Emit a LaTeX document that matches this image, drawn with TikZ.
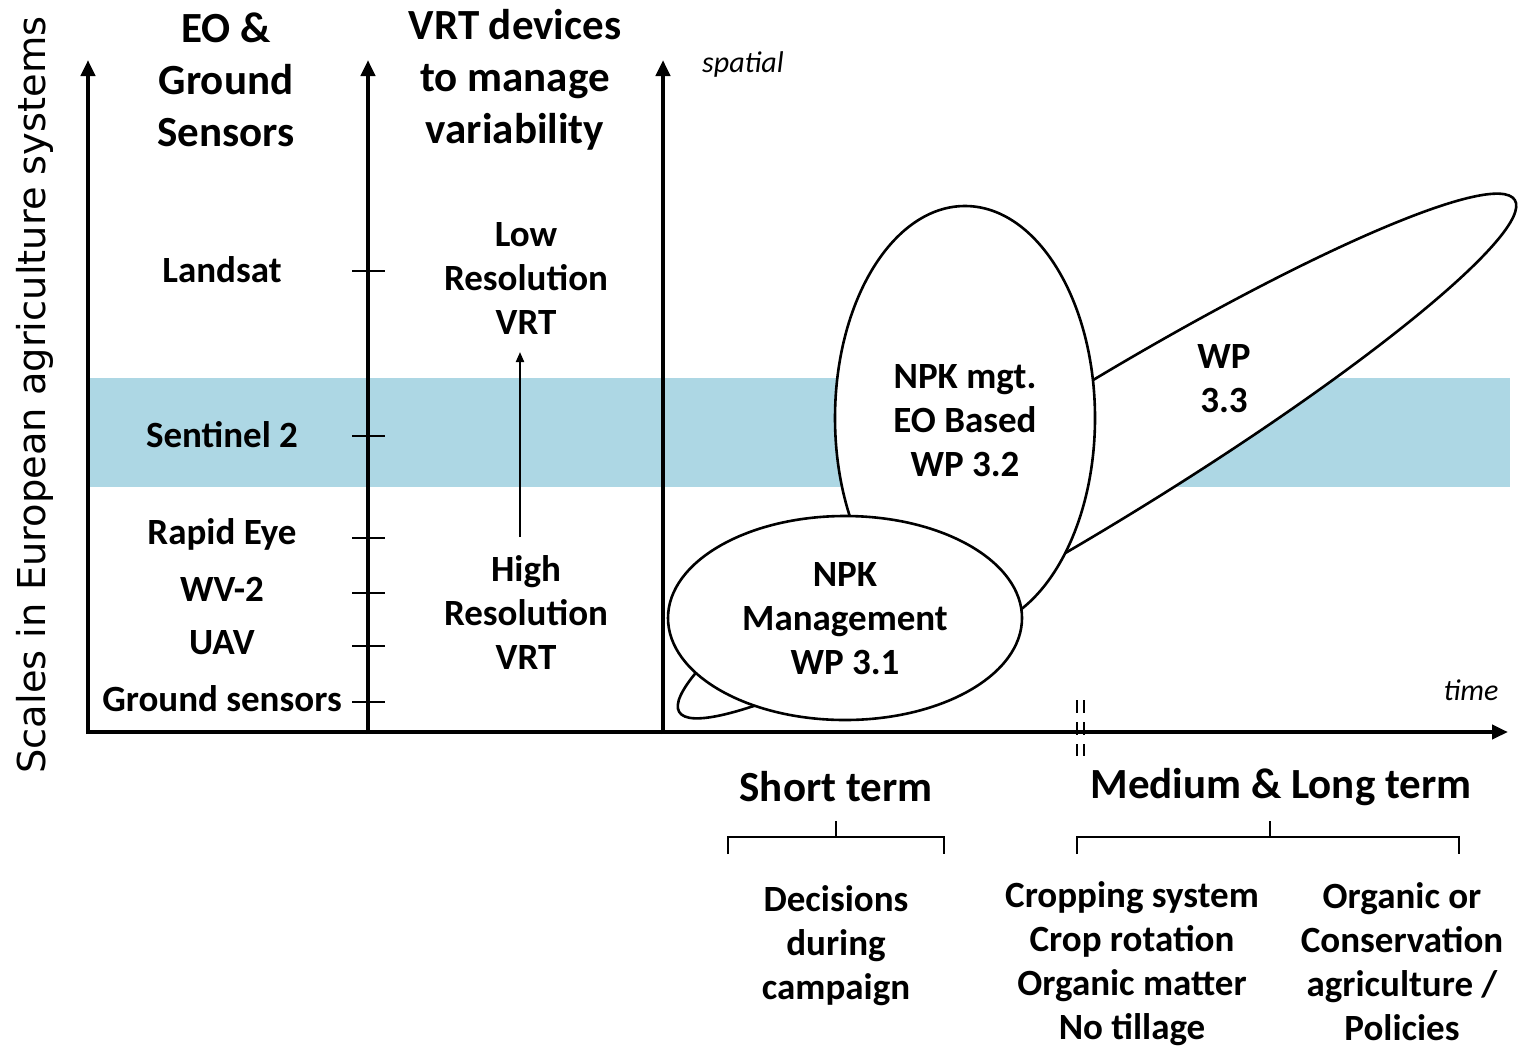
\documentclass[tikz,border=0pt]{standalone}
\usepackage{fontspec}
\setmainfont{Carlito}
\newfontfamily\axisfont{DejaVu Sans}
\usetikzlibrary{arrows.meta}
\definecolor{bandblue}{RGB}{173,215,228}
\begin{document}
\begin{tikzpicture}[x=0.5pt,y=-0.5pt,
  lbl/.style={font=\bfseries\fontsize{18.5}{22}\selectfont, align=center, inner sep=0pt},
  head/.style={font=\bfseries\fontsize{21.5}{26}\selectfont, align=center, inner sep=0pt},
  itl/.style={font=\itshape\fontsize{15}{18}\selectfont, inner sep=0pt},
  axisline/.style={line width=2.4pt, -{Triangle[length=8pt,width=7pt]}},
  ell/.style={draw, fill=white, line width=1.3pt},
  tickline/.style={line width=1pt},
  bracketline/.style={line width=1.3pt}]
\useasboundingbox (0,0) rectangle (1518,1050);
% band
\fill[bandblue] (88,378) rectangle (1510,487);
% ellipses
\draw[ell, shift={(1097,456)}, rotate=31.5] (0,0) ellipse [x radius=490, y radius=67];
\draw[ell] (965,418) ellipse [x radius=130, y radius=212];
\draw[ell] (845,618) ellipse [x radius=177, y radius=102];
% axes
\draw[axisline] (86,732) -- (1508,732);
\draw[axisline] (88,734) -- (88,60);
\draw[axisline] (368,734) -- (368,60);
\draw[axisline] (663,734) -- (663,60);
% ticks
\foreach \y in {271,436,538,593,646,702} \draw[tickline] (352,\y) -- (385,\y);
% break marks
\draw[line width=1.2pt, dash pattern=on 6.5pt off 4.5pt] (1077,700) -- (1077,756);
\draw[line width=1.2pt, dash pattern=on 6.5pt off 4.5pt] (1084,700) -- (1084,756);
% brackets
\draw[bracketline] (728,854) -- (728,837) -- (944,837) -- (944,854);
\draw[bracketline] (836,837) -- (836,821);
\draw[bracketline] (1077,854) -- (1077,837) -- (1459,837) -- (1459,854);
\draw[bracketline] (1270,837) -- (1270,821);
% labels
\node[rotate=90, inner sep=0pt, font=\axisfont\fontsize{19.2}{22}\selectfont] (ylab) at (35,395) {Scales in European agriculture systems};
\node[head] (eo) at (226,80) {EO \&\\Ground\\Sensors};
\node[head] (vrt) at (515,80) {VRT devices\\to manage\\variability};
\node[itl] (spatial) at (743,64) {spatial};
\node[itl] (time) at (1471,690) {time};
\node[lbl] (landsat) at (222,270) {Landsat};
\node[lbl] (sentinel) at (222,435) {Sentinel 2};
\node[lbl] (rapid) at (222,534) {Rapid Eye};
\node[lbl] (wv) at (222,589) {WV-2};
\node[lbl] (uav) at (222,643) {UAV};
\node[lbl] (ground) at (222,699) {Ground sensors};
\node[lbl] (low) at (526,278) {Low\\Resolution\\VRT};
\node[lbl] (high) at (526,613) {High\\Resolution\\VRT};
\coordinate (arrS) at (520,537);
\coordinate (arrE) at (520,352);
\draw[line width=1pt, -{Triangle[length=5pt,width=4pt]}] (arrS) -- (arrE);
\node[lbl] (wp32) at (965,421) {NPK mgt.\\EO Based\\WP 3.2};
\node[lbl] (wp31) at (845,619) {NPK\\Management\\WP 3.1};
\node[lbl] (wp33) at (1224,379) {WP\\3.3};
\node[head] (short) at (836,787) {Short term};
\node[head] (medium) at (1281,787) {Medium \& Long term};
\node[lbl] (dec) at (836,946) {Decisions\\during\\campaign};
\node[lbl] (crop) at (1132,964) {Cropping system\\Crop rotation\\Organic matter\\No tillage};
\node[lbl] (org) at (1402,962) {Organic or\\Conservation\\agriculture /\\Policies};
\end{tikzpicture}
\end{document}
